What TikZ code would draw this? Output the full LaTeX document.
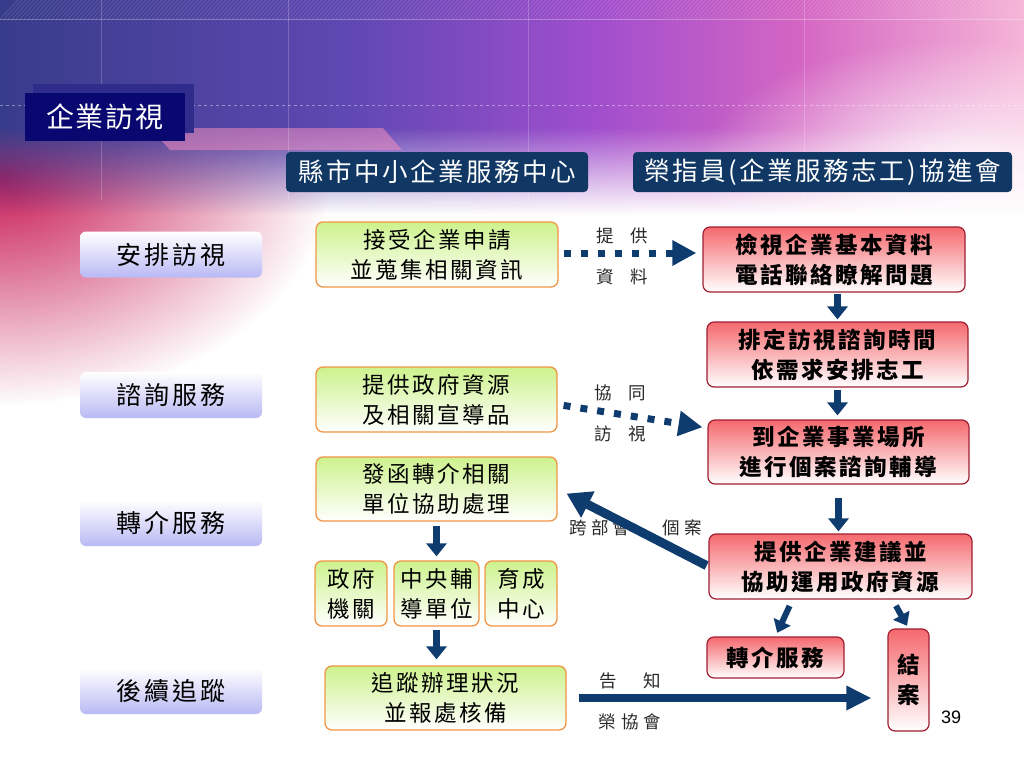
\documentclass[tikz,border=0pt]{standalone}
\usepackage{fontspec}
\newfontfamily\cjk{Noto Sans CJK TC}
\newfontfamily\cjkbox[LetterSpace=11]{Noto Sans CJK TC}
\newfontfamily\cjkhdr[LetterSpace=10]{Noto Sans CJK TC}
\newfontfamily\cjkside[LetterSpace=12]{Noto Sans CJK TC}
\newfontfamily\cjktitle[LetterSpace=7]{Noto Sans CJK TC}
\newfontfamily\lsans{Liberation Sans}
\usetikzlibrary{arrows.meta,fadings}
\definecolor{bgA}{RGB}{55,60,138}
\definecolor{bgB}{RGB}{95,72,178}
\definecolor{bgC}{RGB}{160,78,205}
\definecolor{bgD}{RGB}{212,102,195}
\definecolor{bgE}{RGB}{245,180,215}
\definecolor{crim}{RGB}{200,25,85}
\definecolor{pinkA}{RGB}{238,140,190}
\definecolor{hdrblue}{RGB}{17,56,100}
\definecolor{titleblue}{RGB}{8,8,112}
\definecolor{titleshadow}{RGB}{48,44,140}
\definecolor{arrowblue}{RGB}{15,60,110}
\definecolor{gtop}{RGB}{205,242,140}
\definecolor{gborder}{RGB}{240,150,70}
\definecolor{rtop}{RGB}{245,105,110}
\definecolor{rborder}{RGB}{160,30,50}
\definecolor{lav}{RGB}{185,185,245}
\definecolor{labtext}{RGB}{40,40,40}
\pgfdeclarehorizontalshading{bandshade}{100bp}{color(0bp)=(bgA); color(25bp)=(bgA); color(42bp)=(bgB); color(54bp)=(bgC); color(64bp)=(bgD); color(75bp)=(bgE); color(100bp)=(bgE)}
\tikzfading[name=fadedown, top color=transparent!0, bottom color=transparent!100]
\tikzfading[name=radfade, inner color=transparent!0, outer color=transparent!100]
\tikzset{
  titlebox/.style={fill=titleblue, text=white, minimum width=160pt, minimum height=48pt, inner sep=0pt, font=\cjktitle\fontsize{28}{30}\selectfont},
  hdrbox/.style={fill=hdrblue, rounded corners=4pt, text=white, minimum height=40pt, inner sep=0pt, font=\cjkhdr\fontsize{25.5}{28}\selectfont},
  sidebox/.style={top color=white, bottom color=lav, rounded corners=6pt, minimum width=182pt, minimum height=46pt, inner sep=0pt, text=black, font=\cjkside\fontsize{25}{28}\selectfont},
  gbox/.style={top color=gtop, bottom color=white, draw=gborder, line width=1.3pt, rounded corners=7pt, minimum height=65pt, inner sep=0pt, align=center, text=black, font=\cjkbox\fontsize{22.5}{30}\selectfont},
  rbox/.style={top color=rtop, bottom color=white, draw=rborder, line width=1.2pt, rounded corners=7pt, minimum height=65pt, inner sep=0pt, align=center, text=black, font=\cjkbox\bfseries\fontsize{22.5}{30}\selectfont},
  lab/.style={inner sep=0pt, text=labtext, font=\cjk\fontsize{17.5}{18}\selectfont},
  bar/.style={draw=arrowblue, line width=7pt, -{Triangle[width=20pt,length=13pt]}},
  dotarrow/.style={draw=arrowblue, line width=7pt, dash pattern=on 7pt off 10pt, -{Triangle[width=24pt,length=24pt]}}
}
\begin{document}
\begin{tikzpicture}[x=1pt,y=-1pt]
\useasboundingbox (0,0) rectangle (1024,768);
\clip (0,0) rectangle (1024,768);
\fill[white] (0,0) rectangle (1024,768);
% background
\fill[crim, path fading=radfade] (0,175) ellipse (330 and 230);
\shade[shading=bandshade] (0,0) rectangle (1024,128);
\shade[shading=bandshade, path fading=fadedown] (0,127.5) rectangle (1024,215);
\fill[pinkA, opacity=0.55] (150,128) -- (383,128) -- (402,150) -- (170,150) -- cycle;
\fill[white, path fading=radfade, opacity=0.85] (960,165) ellipse (260 and 125);
\foreach \x in {101,288,528,804} \draw[white, opacity=0.2, line width=0.6pt] (\x,0) -- (\x,200);
\draw[white, opacity=0.4, dash pattern=on 3pt off 3pt, line width=0.8pt] (0,105) -- (1024,105);
\foreach \i in {0,...,260} \draw[white, opacity=0.18, line width=0.5pt] (\i*4,19) -- (\i*4+18,0);
\draw[white, opacity=0.3, line width=0.6pt] (0,19) -- (1024,19);

% title
\fill[titleshadow] (33,84) rectangle (194,133);
\node[titlebox] (T) at (105,117) {企業訪視};

% headers
\node[hdrbox, minimum width=302pt] (H1) at (437,172) {縣市中小企業服務中心};
\node[hdrbox, minimum width=379pt] (H2) at (822.5,172) {榮指員(企業服務志工)協進會};

% side labels
\node[sidebox] (L1) at (171,254.5) {安排訪視};
\node[sidebox] (L2) at (171,395) {諮詢服務};
\node[sidebox] (L3) at (171,523) {轉介服務};
\node[sidebox] (L4) at (171,691) {後續追蹤};

% green boxes
\node[gbox, minimum width=242pt] (G1) at (437,254.5) {接受企業申請\\並蒐集相關資訊};
\node[gbox, minimum width=241pt] (G2) at (436.5,399.5) {提供政府資源\\及相關宣導品};
\node[gbox, minimum width=241pt, minimum height=64pt] (G3) at (436.5,489) {發函轉介相關\\單位協助處理};
\node[gbox, minimum width=72pt] (S1) at (351,593.5) {政府\\機關};
\node[gbox, minimum width=85pt] (S2) at (436.5,593.5) {中央輔\\導單位};
\node[gbox, minimum width=72pt] (S3) at (521,593.5) {育成\\中心};
\node[gbox, minimum width=241pt, minimum height=64pt] (G4) at (445.5,698) {追蹤辦理狀況\\並報處核備};

% red boxes
\node[rbox, minimum width=262pt] (R1) at (834,259.5) {檢視企業基本資料\\電話聯絡瞭解問題};
\node[rbox, minimum width=261pt] (R2) at (837.5,354.5) {排定訪視諮詢時間\\依需求安排志工};
\node[rbox, minimum width=261pt, minimum height=64pt] (R3) at (838.5,452) {到企業事業場所\\進行個案諮詢輔導};
\node[rbox, minimum width=263pt] (R4) at (840.5,566.5) {提供企業建議並\\協助運用政府資源};
\node[rbox, minimum width=137pt, minimum height=41pt] (R5) at (775.5,657.5) {轉介服務};
\node[rbox, minimum width=41pt, minimum height=102pt] (R6) at (908.5,680) {結\\案};

% connector labels
\node[lab] (tA) at (622,236) {提\hspace{17pt}供};
\node[lab] (tB) at (622,277) {資\hspace{17pt}料};
\node[lab] (tC) at (620,393) {協\hspace{17pt}同};
\node[lab] (tD) at (620,434) {訪\hspace{17pt}視};
\node[lab] (tE) at (600,528) {跨\hspace{4pt}部\hspace{4pt}會};
\node[lab] (tF) at (682,528) {個\hspace{4pt}案};
\node[lab] (tG) at (630,681) {告\hspace{27pt}知};
\node[lab] (tH) at (630,722) {榮\hspace{5pt}協\hspace{5pt}會};
\node[inner sep=0pt, font=\lsans\fontsize{18}{20}\selectfont] (pg) at (951,717) {39};

% connectors
\draw[dotarrow, shorten <=5pt, shorten >=6pt] ([yshift=1.5pt]G1.east) -- ([yshift=6.5pt]R1.west);
\draw[dotarrow, shorten <=6pt, shorten >=5pt] ([yshift=-5pt]G2.east) -- ([yshift=24pt]R3.west);
\draw[bar, shorten <=1pt, shorten >=2pt] (R2.north |- R1.south) -- (R2.north);
\draw[bar, shorten <=2pt, shorten >=4pt] (R2.south) -- (R2.south |- R3.north);
\draw[bar, shorten <=13pt, shorten >=2pt] (R3.south) -- (R3.south |- R4.north);
\draw[bar, shorten <=4pt, shorten >=4pt] (G3.south) -- (S2.north);
\draw[bar, shorten <=3pt, shorten >=6pt] (S2.south) -- (S2.south |- G4.north);
\draw[draw=arrowblue, line width=6pt, -{Triangle[width=18pt,length=12pt]}, shorten <=7pt, shorten >=4pt] ([xshift=-48pt]R4.south) -- (R5.north);
\draw[draw=arrowblue, line width=6pt, -{Triangle[width=18pt,length=12pt]}, shorten <=7pt, shorten >=3pt] ([xshift=52pt]R4.south) -- (R6.north);
\draw[draw=arrowblue, line width=9pt, -{Triangle[width=28pt,length=24pt]}, shorten <=2pt, shorten >=10pt] (R4.west) -- (G3.east);
\draw[draw=arrowblue, line width=8pt, -{Triangle[width=23pt,length=25pt]}, shorten <=12pt, shorten >=16pt] (G4.east) -- (G4.east -| R6.west);
\end{tikzpicture}
\end{document}
